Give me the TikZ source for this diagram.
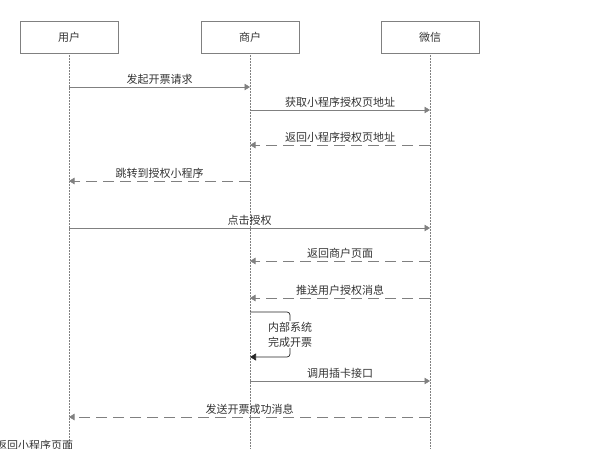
\documentclass[tikz,border=0pt]{standalone}
\usepackage{fontspec}
\newfontfamily\cjk{Noto Sans CJK SC}
\usetikzlibrary{arrows.meta}
\definecolor{lnGray}{HTML}{808080}
\definecolor{txtGray}{HTML}{333333}
\begin{document}
\begin{tikzpicture}[x=1pt,y=-1pt,
  every node/.style={font=\cjk\fontsize{11}{15}\selectfont,text=txtGray},
  actor/.style={draw=lnGray,line width=0.6pt,minimum width=98pt,minimum height=32pt,inner sep=0pt},
  life/.style={lnGray,densely dotted,line width=0.5pt},
  msg/.style={lnGray,line width=0.6pt,-{Triangle[length=5.5pt,width=6.5pt]}},
  reply/.style={msg,dash pattern=on 11pt off 6pt},
  lbl/.style={above=2pt,inner sep=0pt}]
\useasboundingbox (0,0) rectangle (599,448);
% participants
\node[actor] (yh) at (69,37) {用户}; \node[actor] (sh) at (250,37) {商户}; \node[actor] (wx) at (430,37) {微信};
\foreach \p in {yh,sh,wx} { \coordinate (\p e) at (\p.south |- 0,448); \draw[life] (\p.south) -- (\p e); }
% messages
\draw[msg] (yh |- 0,87) -- (sh |- 0,87) node[midway,lbl] {发起开票请求};
\draw[msg] (sh |- 0,110) -- (wx |- 0,110) node[midway,lbl] {获取小程序授权页地址};
\draw[reply] (wx |- 0,145) -- (sh |- 0,145) node[midway,lbl] {返回小程序授权页地址};
\draw[reply] (sh |- 0,181) -- (yh |- 0,181) node[midway,lbl] {跳转到授权小程序};
\draw[msg] (yh |- 0,228) -- (wx |- 0,228) node[midway,lbl] {点击授权};
\draw[reply] (wx |- 0,261) -- (sh |- 0,261) node[midway,lbl] {返回商户页面};
\draw[reply] (wx |- 0,298) -- (sh |- 0,298) node[midway,lbl] {推送用户授权消息};
% self call
\draw[black!85,line width=0.7pt,rounded corners=3pt,-{Triangle[length=6pt,width=7pt]}] (sh |- 0,312) -- (290,312) -- (290,357) -- (sh |- 0,357);
\node[fill=white,align=left,anchor=west,inner sep=1pt] (nb) at (267,334.5) {内部系统\\完成开票};
\draw[msg] (sh |- 0,381) -- (wx |- 0,381) node[midway,lbl] {调用插卡接口};
\draw[reply] (wx |- 0,417) -- (yh |- 0,417) node[midway,lbl] {发送开票成功消息};
\node[anchor=north west,inner sep=0pt] (cut) at (-4,440) {返回小程序页面};
\end{tikzpicture}
\end{document}
